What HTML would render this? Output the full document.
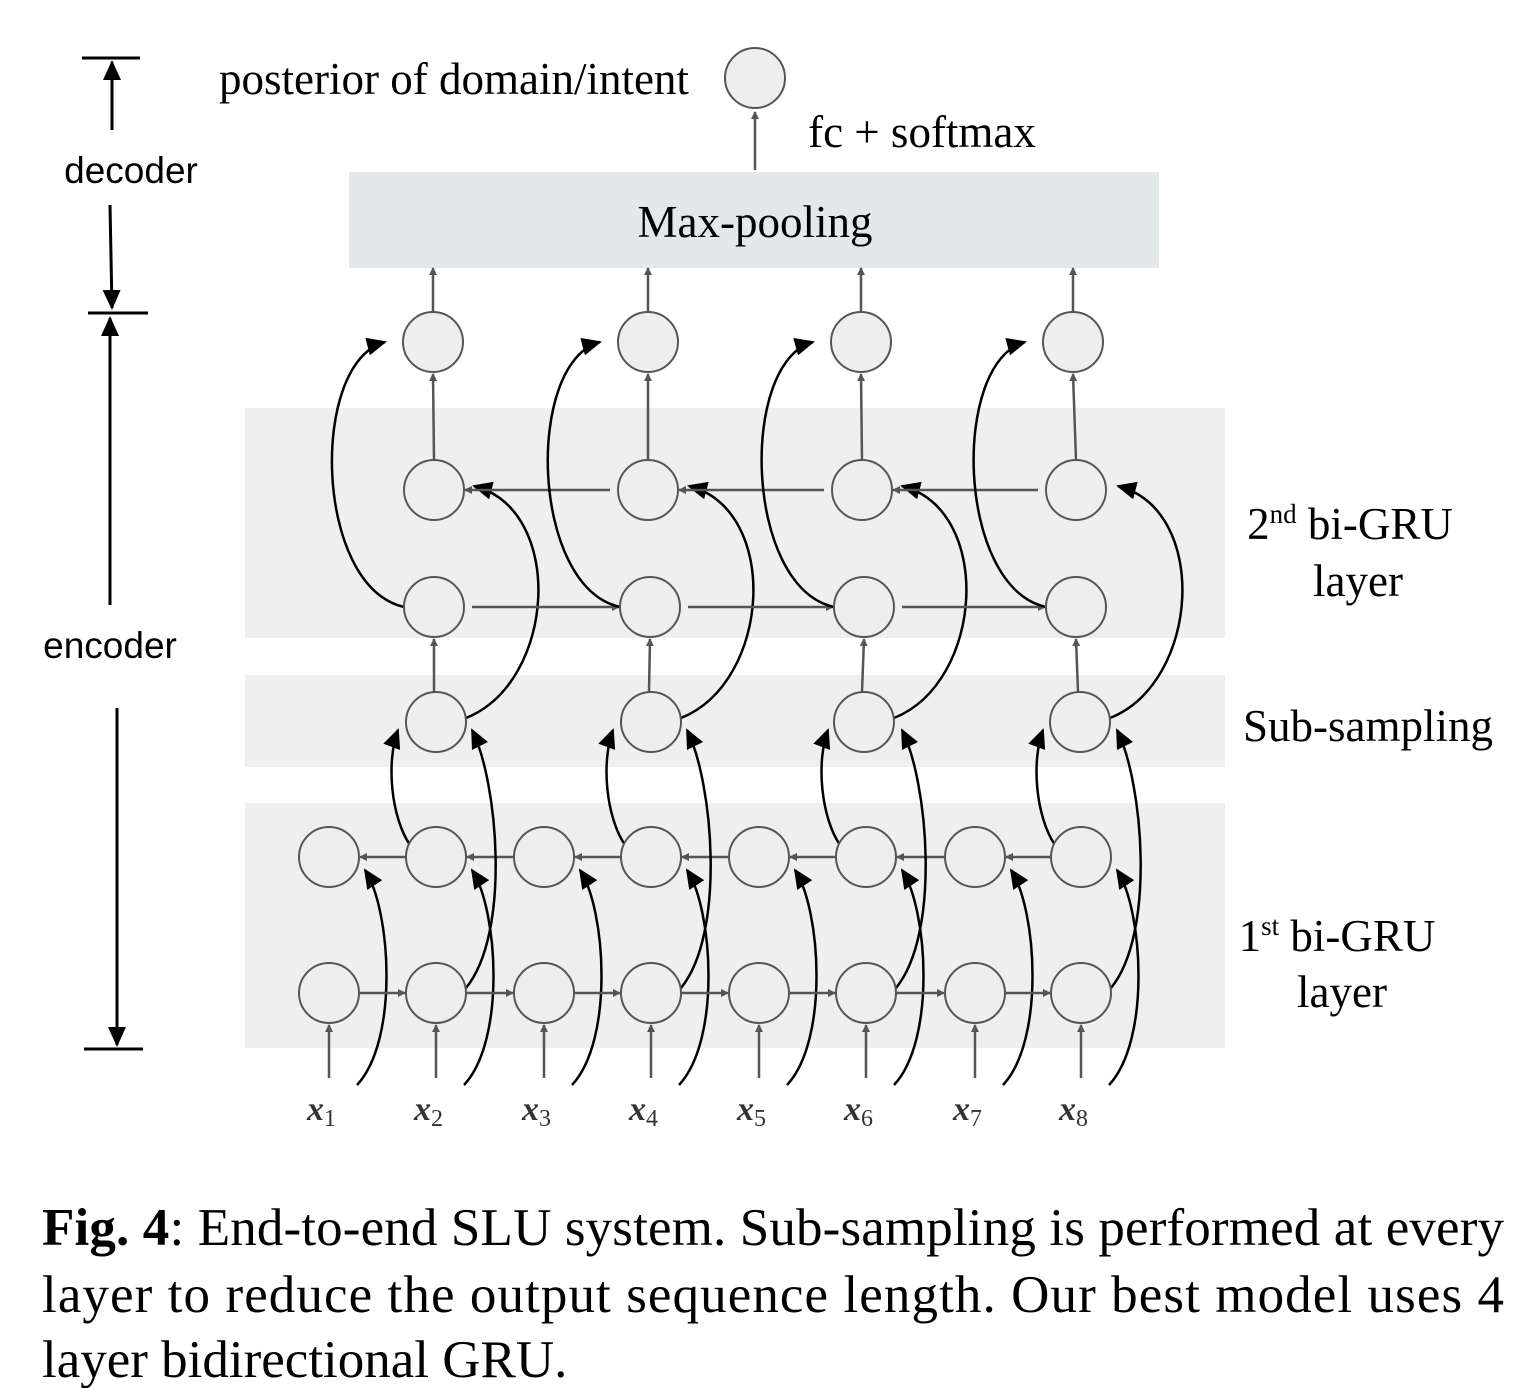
<!DOCTYPE html>
<html><head><meta charset="utf-8">
<style>
body{margin:0;background:#fff;}
svg{display:block;}
.serif{font-family:"Liberation Serif",serif;}
.sans{font-family:"Liberation Sans",sans-serif;}
</style></head>
<body>
<svg id="fig" width="1520" height="1388" viewBox="0 0 1520 1388" xmlns="http://www.w3.org/2000/svg">
<defs>
<marker id="ag" markerWidth="8" markerHeight="8" refX="7" refY="4" orient="auto" markerUnits="userSpaceOnUse" viewBox="0 0 8 8"><path d="M0,0 L8,4 L0,8 z" fill="#555"/></marker>
<marker id="ab" markerWidth="20" markerHeight="18" refX="18" refY="9" orient="auto" markerUnits="userSpaceOnUse" viewBox="0 0 20 18"><path d="M0,0 L20,9 L0,18 z" fill="#000"/></marker>
<marker id="ak" markerWidth="20" markerHeight="18" refX="18" refY="9" orient="auto" markerUnits="userSpaceOnUse" viewBox="0 0 20 18"><path d="M0,0 L20,9 L0,18 z" fill="#000"/></marker>
</defs>
<rect x="245" y="408" width="980" height="230" fill="#efefef"/>
<rect x="245" y="675" width="980" height="92" fill="#efefef"/>
<rect x="245" y="803" width="980" height="245" fill="#efefef"/>
<rect x="349" y="172" width="810" height="96" fill="#e3e8eb"/>
<text x="755" y="237" text-anchor="middle" class="serif" font-size="45">Max-pooling</text>
<g id="edges"></g>
<g id="nodes"></g>
<circle cx="755" cy="78" r="30" fill="#eee" stroke="#555" stroke-width="2"/>
<text x="454" y="94" text-anchor="middle" class="serif" font-size="45">posterior of domain/intent</text>
<text x="922" y="147" text-anchor="middle" class="serif" font-size="45">fc + softmax</text>
<line x1="755" y1="170" x2="755" y2="112" stroke="#555" stroke-width="2.5" marker-end="url(#ag)"/>
<text x="1350" y="539" text-anchor="middle" class="serif" font-size="45">2<tspan font-size="27" dy="-16">nd</tspan><tspan dy="16"> bi-GRU</tspan></text>
<text x="1358" y="596" text-anchor="middle" class="serif" font-size="45">layer</text>
<text x="1368" y="741" text-anchor="middle" class="serif" font-size="45">Sub-sampling</text>
<text x="1337" y="951" text-anchor="middle" class="serif" font-size="45">1<tspan font-size="27" dy="-16">st</tspan><tspan dy="16"> bi-GRU</tspan></text>
<text x="1342" y="1007" text-anchor="middle" class="serif" font-size="45">layer</text>
<g stroke="#000" stroke-width="3">
<line x1="82" y1="58" x2="140" y2="58"/>
<line x1="112" y1="130" x2="112" y2="62" marker-end="url(#ak)"/>
<line x1="110" y1="205" x2="112" y2="308" marker-end="url(#ak)"/>
<line x1="88" y1="313" x2="148" y2="313"/>
<line x1="110" y1="605" x2="110" y2="318" marker-end="url(#ak)"/>
<line x1="117" y1="708" x2="117" y2="1045" marker-end="url(#ak)"/>
<line x1="84" y1="1049" x2="143" y2="1049"/>
</g>
<text x="131" y="183" text-anchor="middle" class="sans" font-size="37">decoder</text>
<text x="110" y="658" text-anchor="middle" class="sans" font-size="37">encoder</text>
<g id="xlabels"></g>
<text class="serif" font-size="53" x="42" y="1245" textLength="1462" lengthAdjust="spacing"><tspan font-weight="bold">Fig. 4</tspan>: End-to-end SLU system. Sub-sampling is performed at every</text>
<text class="serif" font-size="53" x="42" y="1312" textLength="1462" lengthAdjust="spacing">layer to reduce the output sequence length. Our best model uses 4</text>
<text class="serif" font-size="53" x="42" y="1377">layer bidirectional GRU.</text>
</svg>
<script>
const inputs=['1','2','3','4','5','6','7','8'];
const l1x=[329,436,544,651,759,866,975,1081];
const subx=[436,651,864,1080];
const l2fx=[434,650,864,1076];
const l2bx=[434,648,862,1076];
const outx=[433,648,861,1073];
const NS='http://www.w3.org/2000/svg';
const E=document.getElementById('edges'),N=document.getElementById('nodes'),X=document.getElementById('xlabels');
const R=30;
function circ(x,y,name){const c=document.createElementNS(NS,'circle');c.setAttribute('cx',x);c.setAttribute('cy',y);c.setAttribute('r',R);c.setAttribute('fill','#eee');c.setAttribute('stroke','#555');c.setAttribute('stroke-width','2');


N.appendChild(c);}
function line(x1,y1,x2,y2,name){const l=document.createElementNS(NS,'line');l.setAttribute('x1',x1);l.setAttribute('y1',y1);l.setAttribute('x2',x2);l.setAttribute('y2',y2);l.setAttribute('stroke','#555');l.setAttribute('stroke-width','2.5');l.setAttribute('marker-end','url(#ag)');


E.appendChild(l);}
function curve(d,name){const p=document.createElementNS(NS,'path');p.setAttribute('d',d);p.setAttribute('fill','none');p.setAttribute('stroke','#000');p.setAttribute('stroke-width','2.5');p.setAttribute('marker-end','url(#ab)');


E.appendChild(p);}
const yF1=993,yB1=857,yS=722,yF2=607,yB2=490,yO=342;
l1x.forEach((x,i)=>{
 circ(x,yF1,'gru1-forward-node');circ(x,yB1,'gru1-backward-node');
 line(x,1078,x,yF1+R+2,'input-arrow');
 curve(`M${x+28},1085 C${x+70},1040 ${x+62},910 ${x+36},870`,'input-to-backward-curve');
 if(i<l1x.length-1){line(x+R,yF1,l1x[i+1]-R-1,yF1,'forward-arrow');line(l1x[i+1]-R,yB1,x+R+1,yB1,'backward-arrow');}
 const t=document.createElementNS(NS,'text');t.setAttribute('x',x-22);t.setAttribute('y',1120);t.setAttribute('font-family','Liberation Serif, serif');t.setAttribute('font-size','34');t.setAttribute('font-weight','bold');t.setAttribute('font-style','italic');t.setAttribute('fill','#333');
 
 
 t.innerHTML='x<tspan font-size="24" dy="6" font-weight="normal" font-style="normal">'+inputs[i]+'</tspan>';X.appendChild(t);
});
subx.forEach((x,i)=>{
 const c1=l1x[2*i+1];
 circ(x,yS,'subsampling-node');
 curve(`M${c1-26},${yB1-12} C${c1-45},${yB1-40} ${c1-50},${yS+40} ${c1-38},${yS+8}`,'backward-to-subsample-curve');
 curve(`M${c1+30},${yF1-5} C${c1+75},${yF1-60} ${c1+62},${yS+60} ${c1+36},${yS+8}`,'forward-to-subsample-curve');
 line(x-2,yS-R,l2fx[i],yF2+R+2,'subsample-up-arrow');
 circ(l2fx[i],yF2,'gru2-forward-node');circ(l2bx[i],yB2,'gru2-backward-node');
 curve(`M${x+30},${yS-4} C${x+120},${yS-40} ${x+130},${yB2+20} ${x+38},${yB2-4}`,'subsample-to-backward-curve');
 curve(`M${l2fx[i]-30},${yF2} C${l2fx[i]-120},${yF2-20} ${l2fx[i]-125},${yO+20} ${outx[i]-48},${yO}`,'forward-to-output-curve');
 if(i<subx.length-1){line(l2fx[i]+R+8,yF2,l2fx[i+1]-R-1,yF2,'gru2-forward-arrow');line(l2bx[i+1]-R-8,yB2,l2bx[i]+R+1,yB2,'gru2-backward-arrow');}
 line(l2bx[i],yB2-R,outx[i],yO+R+2,'to-output-arrow');
 circ(outx[i],yO,'output-node');
 line(outx[i],yO-R,outx[i],268,'to-maxpool-arrow');
});
</script>
</body></html>
